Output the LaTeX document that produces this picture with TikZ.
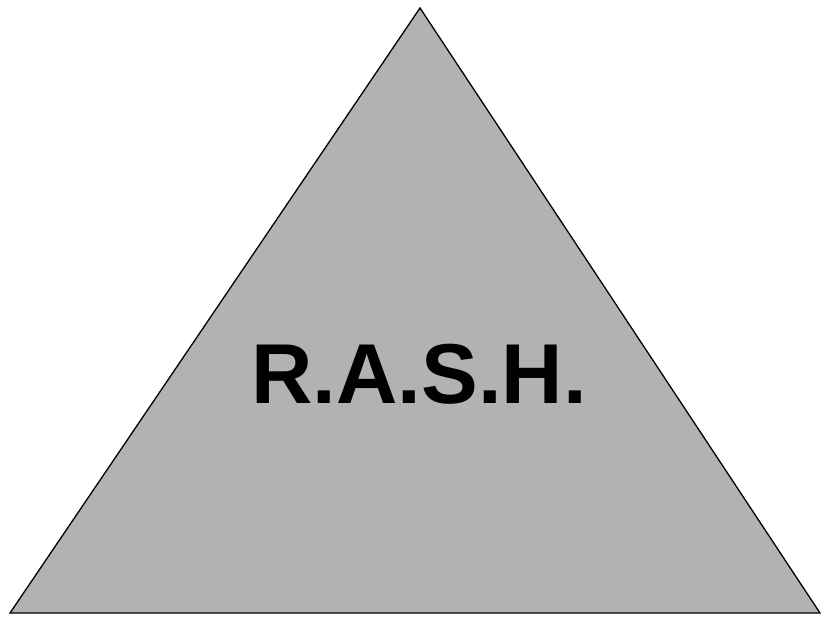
\documentclass[tikz,border=0pt]{standalone}
\usepackage{fontspec}
\setmainfont{Liberation Sans}
\usetikzlibrary{positioning}

\begin{document}
\begin{tikzpicture}[
    x=1pt, y=-1pt,
    tri/.style={draw=black, fill=black!30, line width=1.3pt, line join=miter},
    label/.style={font=\fontsize{85}{90}\selectfont\bfseries, text=black}
]
    \useasboundingbox (0,0) rectangle (821,616);
    \coordinate (top)   at (420,8);
    \coordinate (left)  at (10,613);
    \coordinate (right) at (820,613);
    \filldraw[tri] (top) -- (left) -- (right) -- cycle;
    \node[label] (rash) at (419,374) {R.A.S.H.};
\end{tikzpicture}
\end{document}
